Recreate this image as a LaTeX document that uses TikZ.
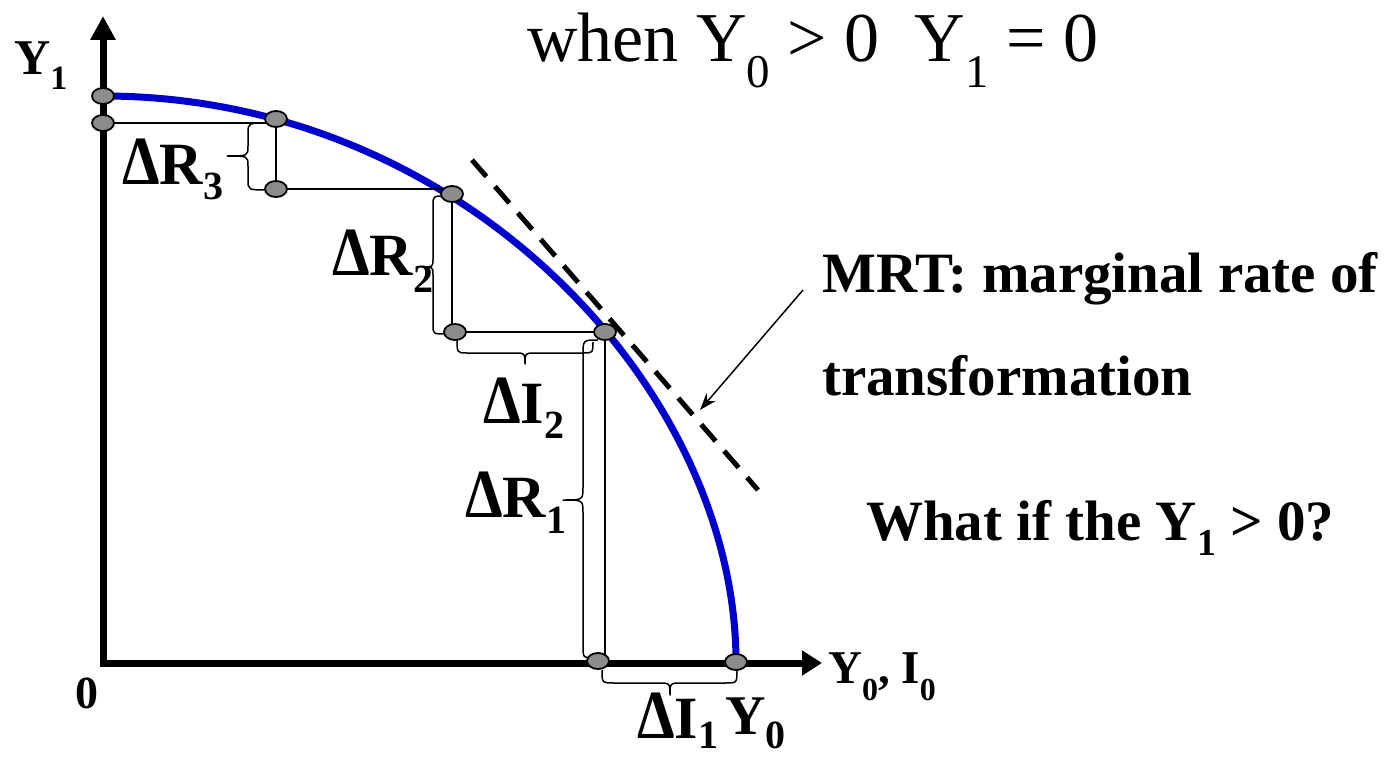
\documentclass[tikz,border=0pt]{standalone}
\usepackage{fontspec}
\usepackage{graphicx}
\setmainfont{Liberation Serif}
\usetikzlibrary{arrows.meta,shapes.geometric}
\definecolor{curveblue}{RGB}{0,0,204}
\definecolor{dotgray}{RGB}{140,140,140}
\newcommand\fsz[1]{\fontsize{#1}{#1}\selectfont}
\newcommand\lowered[3]{\raisebox{-#1pt}{\fsz{#2}#3}}
\newcommand\dlt{\scalebox{1}[1.15]{Δ}}
\begin{document}
\begin{tikzpicture}[x=1pt,y=-1pt,
  axis/.style={line width=7pt, line join=miter},
  curve/.style={line width=7pt, draw=curveblue},
  thinline/.style={line width=1.7pt},
  braceline/.style={line width=1.5pt, line join=round},
  dot/.style={ellipse, draw, line width=1.8pt, fill=dotgray, minimum width=22pt, minimum height=16pt, inner sep=0pt},
  lbl/.style={anchor=base west, inner sep=0pt, font=\bfseries},
  tangent/.style={line width=5pt, dash pattern=on 22pt off 13pt},
  pointer/.style={line width=1.5pt, -{Stealth[length=17pt,width=12pt]}}]
\useasboundingbox (0,0) rectangle (1393,757);
% coordinates
\coordinate (O) at (103,663);
\coordinate (ytip) at (103,16);
\coordinate (xtip) at (822,663);
\coordinate (p1) at (103,96);
\coordinate (p2) at (103,123);
\coordinate (p3) at (276,119);
\coordinate (p4) at (276,189);
\coordinate (p5) at (452,194);
\coordinate (p6) at (455,332);
\coordinate (p7) at (605,332);
\coordinate (p8) at (598,661);
\coordinate (p9) at (736,662);
\coordinate (t1) at (472,160);
\coordinate (t2) at (758,490);
\coordinate (a1) at (803,290);
\coordinate (a2) at (700,410);
% axes
\draw[axis, {Triangle[length=24pt,width=24pt]}-{Triangle[length=20pt,width=24pt]}] (ytip) -- (O) -- (xtip);
% frontier
\draw[curve] (p1) .. controls (464,96) and (736,390) .. (p9);
% thin lines
\draw[thinline] (p2) -- (p2 -| p3);
\draw[thinline] (p3) -- (p4);
\draw[thinline] (p4) -- (p4 -| p5);
\draw[thinline] (p5) -- (p5 |- p6);
\draw[thinline] (p6) -- (p7);
\draw[thinline] (p7) -- (p7 |- p8);
% tangent and pointer
\draw[tangent] (t1) -- (t2);
\draw[pointer] (a1) -- (a2);
% braces
\draw[braceline] (268,123) .. controls (248,123) .. (248,133) -- (248,146) .. controls (248,156) .. (227,156) .. controls (248,156) .. (248,166) -- (248,180) .. controls (248,190) .. (268,190);
\draw[braceline] (444,196) .. controls (433,196) .. (433,206) -- (433,259) .. controls (433,267) .. (422,267) .. controls (433,267) .. (433,275) -- (433,325) .. controls (433,334) .. (446,334);
\draw[braceline] (598,340) .. controls (583,340) .. (583,355) -- (583,487) .. controls (583,500) .. (563,500) .. controls (583,500) .. (583,513) -- (583,645) .. controls (583,658) .. (594,658);
\draw[braceline] (457,338) .. controls (457,353) .. (467,353) -- (515,353) .. controls (525,353) .. (525,364) .. controls (525,353) .. (535,353) -- (583,353) .. controls (593,353) .. (593,342);
\draw[braceline] (602,670) .. controls (602,683) .. (614,683) -- (658,683) .. controls (670,683) .. (670,695) .. controls (670,683) .. (682,683) -- (725,683) .. controls (737,683) .. (737,670);
% dots
\foreach \p in {p1,p2,p3,p4,p5,p6,p7,p8,p9} \node[dot] (d\p) at (\p) {};
% labels
\node[lbl] (y1lbl) at (14,75) {\fsz{50}Y\lowered{15}{34}{1}};
\node[lbl] (zero) at (75,708) {\fsz{46}0};
\node[lbl] (dr3) at (122,185) {\fsz{60}\dlt R\lowered{15}{40}{3}};
\node[lbl] (dr2) at (332,275) {\fsz{60}\dlt R\lowered{17}{40}{2}};
\node[lbl] (di2) at (483,423) {\fsz{60}\dlt I\lowered{15}{40}{2}};
\node[lbl] (dr1) at (465,517) {\fsz{60}\dlt R\lowered{16}{40}{1}};
\node[lbl] (di1) at (637,738) {\fsz{60}\dlt I\lowered{10}{40}{1}};
\node[lbl] (y0lbl) at (725,734) {\fsz{56}Y\lowered{14}{40}{0}};
\node[lbl] (xlbl) at (828,683) {\fsz{47}Y\lowered{17}{32}{0}, I\lowered{17}{32}{0}};
\node[anchor=base west, inner sep=0pt] (title) at (527,62) {\fsz{70}when Y\lowered{26}{47}{0} > 0\ \ Y\lowered{26}{47}{1} = 0};
\node[lbl] (mrt) at (822,292) {\fsz{57}MRT: marginal rate of};
\node[lbl] (transf) at (822,395) {\fsz{57}transformation};
\node[lbl] (whatif) at (866,540) {\fsz{57}What if the Y\lowered{15}{38}{1} > 0?};
\end{tikzpicture}
\end{document}
